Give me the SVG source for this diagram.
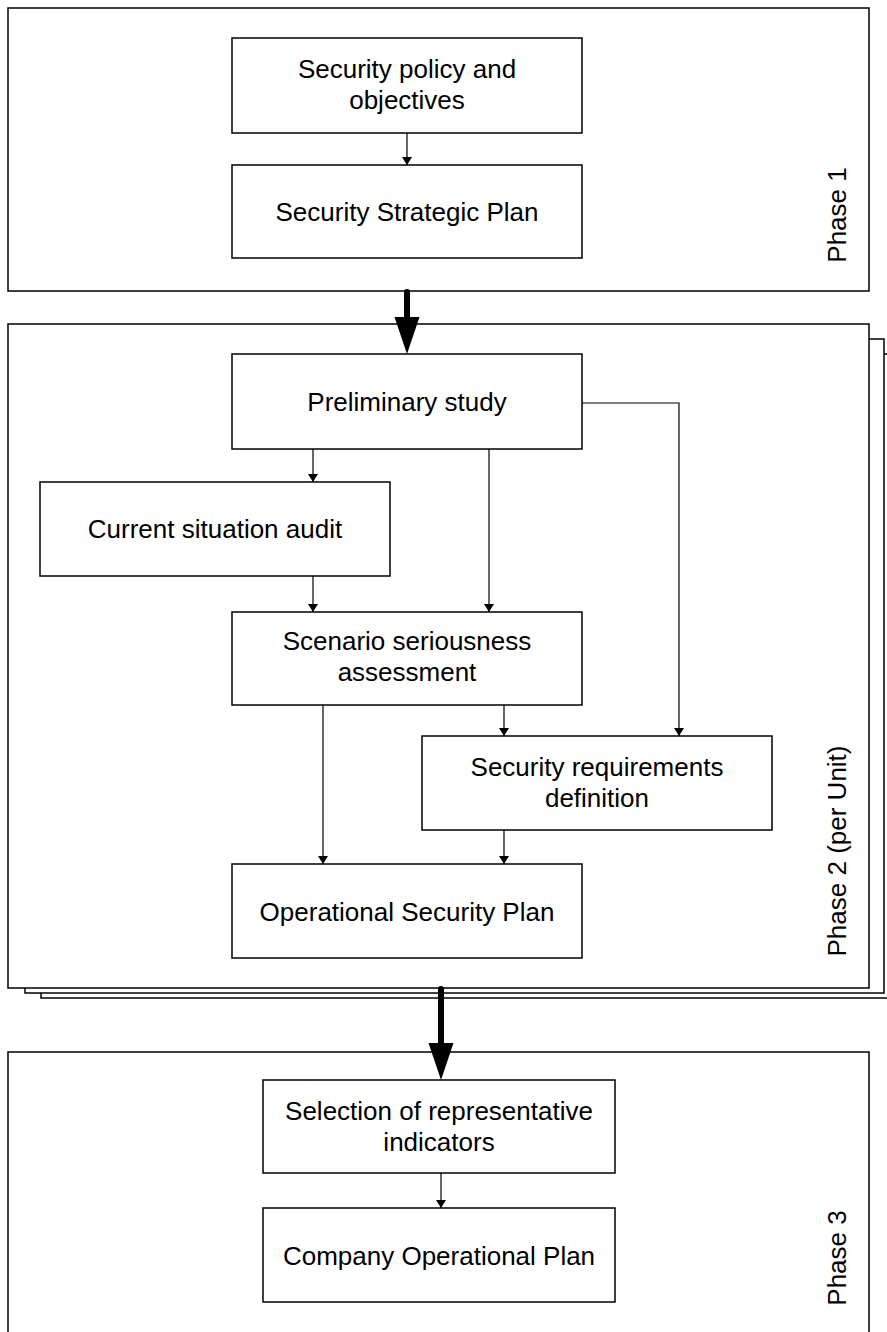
<svg xmlns="http://www.w3.org/2000/svg" width="887" height="1332" viewBox="0 0 887 1332">
  <style>
    .phase { fill: #ffffff; stroke: #000000; stroke-width: 1.5; }
    .node { fill: #ffffff; stroke: #000000; stroke-width: 1.5; }
    .label { font-family: "Liberation Sans", Arial, sans-serif; font-size: 26px; fill: #000000; text-anchor: middle; }
    .plabel { font-family: "Liberation Sans", Arial, sans-serif; font-size: 26px; fill: #000000; text-anchor: middle; }
    .link { fill: none; stroke: #000000; stroke-width: 1.2; }
    .big { fill: none; stroke: #000000; stroke-width: 6; stroke-linecap: round; }
  </style>
  <defs>
    <marker id="arrow" viewBox="0 0 8 10" refX="8" refY="5" markerWidth="8" markerHeight="10" markerUnits="userSpaceOnUse" orient="auto">
      <path d="M0,0 L8,5 L0,10 Z" fill="#000000"/>
    </marker>
  </defs>
  <rect width="887" height="1332" fill="#ffffff"/>

  <!-- Phase 1 container -->
  <g id="phase1">
    <rect class="phase" x="8" y="8" width="861" height="283"/>
    <text class="plabel" transform="translate(846,215) rotate(-90)">Phase 1</text>
  </g>

  <!-- Phase 2 container, stacked to show one sheet per unit -->
  <g id="phase2">
    <rect class="phase" x="41" y="354" width="860" height="644"/>
    <rect class="phase" x="25" y="339" width="859" height="654"/>
    <rect class="phase" x="8" y="324" width="861" height="664"/>
    <text class="plabel" transform="translate(846,851) rotate(-90)">Phase 2 (per Unit)</text>
  </g>

  <!-- Phase 3 container -->
  <g id="phase3">
    <rect class="phase" x="8" y="1052" width="861" height="300"/>
    <text class="plabel" transform="translate(846,1258) rotate(-90)">Phase 3</text>
  </g>

  <g id="n-policy">
    <rect class="node" x="232" y="38" width="350" height="95"/>
    <text class="label" x="407" y="78">Security policy and</text>
    <text class="label" x="407" y="109">objectives</text>
  </g>
  <g id="n-strategic">
    <rect class="node" x="232" y="165" width="350" height="93"/>
    <text class="label" x="407" y="221">Security Strategic Plan</text>
  </g>
  <g id="n-preliminary">
    <rect class="node" x="232" y="354" width="350" height="95"/>
    <text class="label" x="407" y="411">Preliminary study</text>
  </g>
  <g id="n-audit">
    <rect class="node" x="40" y="482" width="350" height="94"/>
    <text class="label" x="215" y="538">Current situation audit</text>
  </g>
  <g id="n-scenario">
    <rect class="node" x="232" y="612" width="350" height="93"/>
    <text class="label" x="407" y="650">Scenario seriousness</text>
    <text class="label" x="407" y="681">assessment</text>
  </g>
  <g id="n-requirements">
    <rect class="node" x="422" y="736" width="350" height="94"/>
    <text class="label" x="597" y="776">Security requirements</text>
    <text class="label" x="597" y="807">definition</text>
  </g>
  <g id="n-operational">
    <rect class="node" x="232" y="864" width="350" height="94"/>
    <text class="label" x="407" y="921">Operational Security Plan</text>
  </g>
  <g id="n-indicators">
    <rect class="node" x="263" y="1080" width="352" height="93"/>
    <text class="label" x="439" y="1120">Selection of representative</text>
    <text class="label" x="439" y="1151">indicators</text>
  </g>
  <g id="n-company">
    <rect class="node" x="263" y="1208" width="352" height="94"/>
    <text class="label" x="439" y="1265">Company Operational Plan</text>
  </g>

  <!-- Connectors -->
  <g id="connectors">
    <line class="link" x1="407" y1="133" x2="407" y2="165" marker-end="url(#arrow)"/>
    <line class="link" x1="313" y1="449" x2="313" y2="482" marker-end="url(#arrow)"/>
    <line class="link" x1="489" y1="449" x2="489" y2="612" marker-end="url(#arrow)"/>
    <polyline class="link" points="582,403 679,403 679,736" marker-end="url(#arrow)"/>
    <line class="link" x1="313" y1="576" x2="313" y2="612" marker-end="url(#arrow)"/>
    <line class="link" x1="323" y1="705" x2="323" y2="864" marker-end="url(#arrow)"/>
    <line class="link" x1="504" y1="705" x2="504" y2="736" marker-end="url(#arrow)"/>
    <line class="link" x1="504" y1="830" x2="504" y2="864" marker-end="url(#arrow)"/>
    <line class="link" x1="441" y1="1173" x2="441" y2="1208" marker-end="url(#arrow)"/>

    <!-- phase transitions -->
    <line class="big" x1="407" y1="292" x2="407" y2="320"/>
    <polygon points="394.5,317 419.5,317 407,354" fill="#000000"/>
    <line class="big" x1="441" y1="989" x2="441" y2="1046"/>
    <polygon points="428.5,1043 453.5,1043 441,1080" fill="#000000"/>
  </g>
</svg>
